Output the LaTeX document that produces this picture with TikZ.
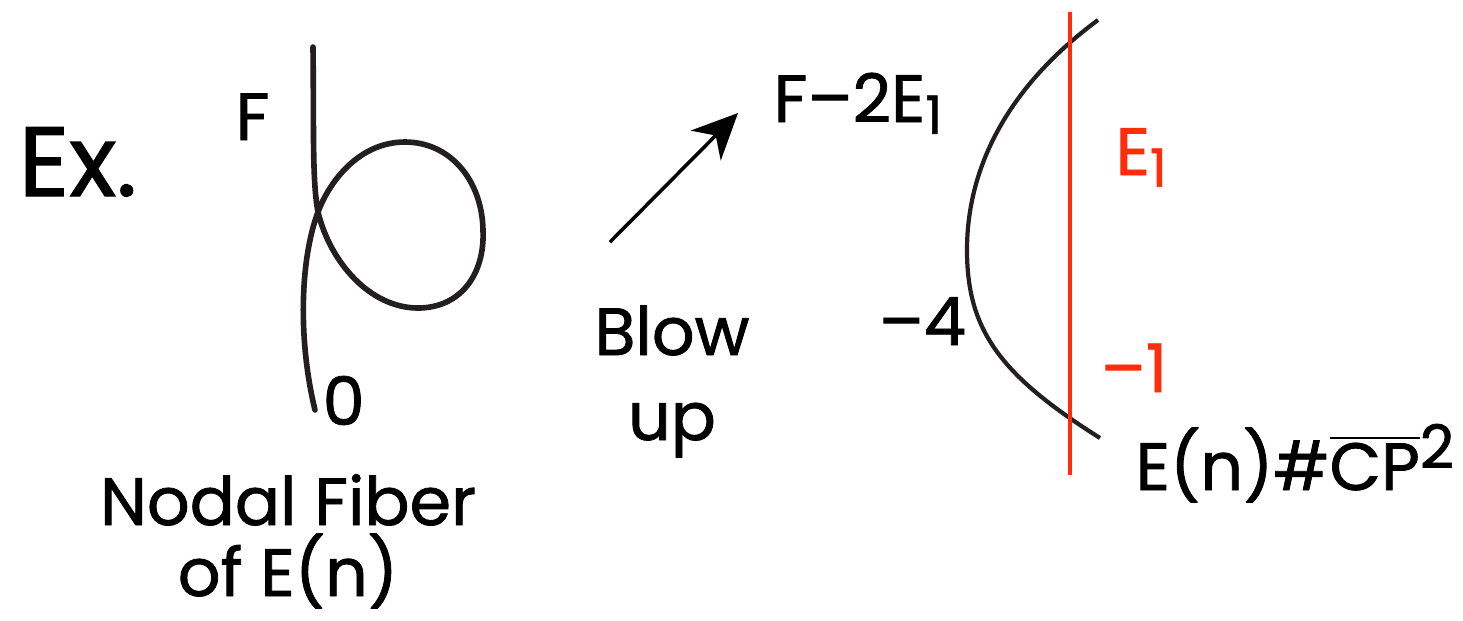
\documentclass[tikz,border=0pt]{standalone}
\usepackage{fontspec}
\setmainfont{Poppins}[FakeBold=1.2]
\usetikzlibrary{arrows.meta}
\definecolor{blowred}{HTML}{FF2D0A}
\definecolor{curvegray}{HTML}{231F20}
\newcommand{\lowidx}[1]{\raisebox{-0.32ex}{\fontsize{15}{15}\selectfont #1}}

\begin{document}
\begin{tikzpicture}[x=0.01cm, y=-0.01cm, >={Stealth[length=13pt, width=12pt, inset=4pt]},
    lbl/.style={inner sep=0pt, anchor=base west, font=\fontsize{19}{19}\selectfont},
    cnt/.style={inner sep=0pt, anchor=base, font=\fontsize{19}{19}\selectfont}]
      \useasboundingbox (0,0) rectangle (1463,620);

      % left: the nodal fiber
      \node[lbl, font=\fontsize{28}{28}\selectfont] (ex) at (18,196) {Ex.};
      \node[lbl] (flabel) at (235,140) {F};
      \node[lbl] (zero) at (322,425) {0};
      \draw[curvegray, line width=1.6pt, line cap=round]
        (313,47) .. controls (314,130) and (312,180) .. (318,212)
        .. controls (330,262) and (370,308) .. (418,308)
        .. controls (460,308) and (485,275) .. (483,230)
        .. controls (482,180) and (450,142) .. (405,142)
        .. controls (360,142) and (330,180) .. (318,212)
        .. controls (300,260) and (298,340) .. (315,410);
      \node[cnt] (nodal) at (288,525) {Nodal Fiber};
      \node[cnt] (ofen) at (288,596) {of E(n)};

      % middle: the blow up arrow
      \coordinate (blowfrom) at (610,242);
      \coordinate (blowto) at (738,113);
      \draw[->, line width=1pt] (blowfrom) -- (blowto);
      \node[cnt] (blow) at (672,355) {Blow};
      \node[cnt] (up) at (672,440) {up};

      % right: after the blow up
      \node[lbl] (proper) at (773,122) {F--2E\lowidx{1}};
      \draw[curvegray, line width=1.2pt]
        (1098,20) .. controls (1010,85) and (967,165) .. (967,250)
        .. controls (967,330) and (1000,375) .. (1100,438);
      \draw[blowred, line width=1.1pt] (1070,12) -- (1070,475);
      \node[lbl, text=blowred] (exc) at (1115,175) {E\lowidx{1}};
      \node[lbl] (minusfour) at (878,345) {--4};
      \node[lbl, text=blowred] (minusone) at (1100,392) {--1};
      \node[lbl] (blowup) at (1135,490) {E(n)\#\(\overline{\mbox{CP}}\)\textsuperscript{\fontsize{17}{17}\selectfont 2}};
\end{tikzpicture}
\end{document}
